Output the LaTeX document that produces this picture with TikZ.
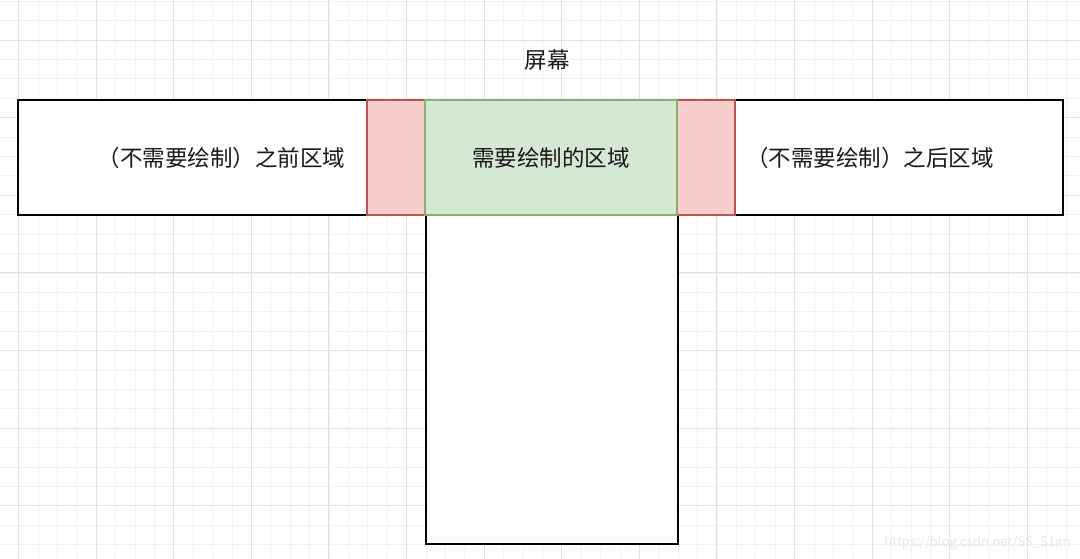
\documentclass[tikz,border=0pt]{standalone}
\usepackage{fontspec}
\setmainfont{Noto Sans CJK SC}
\usetikzlibrary{positioning}

\definecolor{minorgrid}{HTML}{F2F2F2}
\definecolor{majorgrid}{HTML}{E2E2E2}
\definecolor{redfill}{HTML}{F8CECC}
\definecolor{redline}{HTML}{B85450}
\definecolor{greenfill}{HTML}{D5E8D4}
\definecolor{greenline}{HTML}{82B366}
\definecolor{marktext}{HTML}{E8E8E8}

\newcommand*{\rowmid}{157.5}
\newcommand*{\rowh}{115}

\begin{document}
\begin{tikzpicture}
[
	x=1pt,
	y=-1pt,
	plainbox/.style={rectangle,draw=black,fill=white,line width=1.5pt,inner sep=0pt,minimum height=\rowh pt},
	redbox/.style={rectangle,draw=redline,fill=redfill,line width=1.2pt,inner sep=0pt,minimum height=\rowh pt},
	greenbox/.style={rectangle,draw=greenline,fill=greenfill,line width=1.2pt,inner sep=0pt,minimum height=\rowh pt},
	label/.style={font=\fontsize{22.5}{26}\selectfont,text=black!90}
]

	\useasboundingbox (0,0) rectangle (1080,559);
	\fill[white] (0,0) rectangle (1080,559);

	% background grid
	\foreach \i in {0,...,55}
		\draw[minorgrid,line width=0.6pt] ({18.4+19.4*(\i-1)},0) -- ++(0,559);
	\foreach \j in {0,...,29}
		\draw[minorgrid,line width=0.6pt] (0,{1.2+19.4*\j}) -- ++(1080,0);
	\foreach \i in {0,...,13}
		\draw[majorgrid,line width=0.8pt] ({18.4+77.6*\i},0) -- ++(0,559);
	\foreach \j in {0,...,7}
		\draw[majorgrid,line width=0.8pt] (0,{40+77.6*(\j-1)}) -- ++(1080,0);

	% screen title
	\node[label] (title) at (547,60) {屏幕};

	% body of the screen below the row
	\node[plainbox,minimum width=252pt,minimum height=328pt,anchor=north west] (body) at (425,215) {};

	% row of regions
	\node[plainbox,minimum width=407pt] (before) at (221.5,\rowmid) {};
	\node[plainbox,minimum width=386pt] (after) at (870,\rowmid) {};
	\node[redbox,minimum width=58pt] (leftpad) at (396,\rowmid) {};
	\node[redbox,minimum width=58pt] (rightpad) at (706,\rowmid) {};
	\node[greenbox,minimum width=252pt] (visible) at (551,\rowmid) {};

	\node[label] (beforetext) at (before) {（不需要绘制）之前区域};
	\node[label] (aftertext) at (after) {（不需要绘制）之后区域};
	\node[label] (visibletext) at (visible) {需要绘制的区域};

	% watermark
	\node[anchor=south east,text=marktext,font=\fontsize{13}{15}\selectfont] (mark) at (1074,553) {https://blog.csdn.net/SS\_S1gn};

\end{tikzpicture}
\end{document}
